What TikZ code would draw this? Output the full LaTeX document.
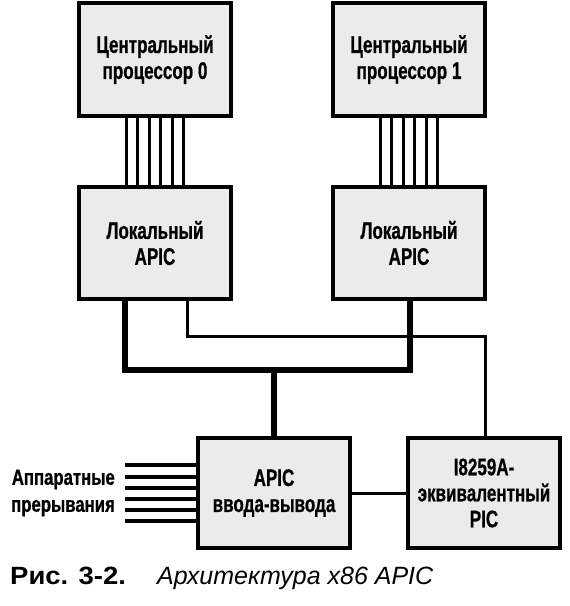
\documentclass[tikz,border=0pt]{standalone}
\usepackage{fontspec}
\setmainfont{Liberation Sans}
\newfontfamily\narrowfont{Liberation Sans}[FakeStretch=0.71,FakeBold=0.6]
\newfontfamily\labelfont{Liberation Sans}[FakeStretch=0.76,FakeBold=0.8]
\newfontfamily\capfont{Liberation Sans}[FakeStretch=1.1]
\begin{document}
\begin{tikzpicture}[x=1pt,y=-1pt,
  box/.style={draw=black, line width=3.8pt, fill=black!8, minimum width=152pt,
     align=center, inner sep=0pt,
     font=\narrowfont\bfseries\fontsize{24}{26}\selectfont},
  bigbox/.style={box, minimum height=113pt},
  smallbox/.style={box, minimum height=110pt},
  bus/.style={line width=3.2pt},
  thickbus/.style={line width=6pt},
  thinbus/.style={line width=3pt}]
\useasboundingbox[fill=white] (0,0) rectangle (570,606);
\node[bigbox] (cpu0) at (155,59.5) {Центральный\\процессор 0};
\node[bigbox] (cpu1) at (409,59.5) {Центральный\\процессор 1};
\node[bigbox, minimum height=112pt] (apic0) at (155,243) {Локальный\\APIC};
\node[bigbox, minimum height=112pt] (apic1) at (409,243) {Локальный\\APIC};
\node[smallbox] (io) at (274,493) {APIC\\ввода-вывода};
\node[smallbox] (pic) at (484,493) {I8259A-\\эквивалентный\\PIC};
\foreach \d in {-28.75,-17.25,-5.75,5.75,17.25,28.75}{
  \draw[bus] ([xshift=\d pt]cpu0.south) -- ([xshift=\d pt]apic0.north);
  \draw[bus] ([xshift=\d pt]cpu1.south) -- ([xshift=\d pt]apic1.north);
}
\coordinate (j) at (274,370);
\coordinate (k) at (485,336);
\draw[thinbus] ([xshift=32pt]apic0.south) |- (k) -- (k |- pic.north);
\draw[thickbus] ([xshift=-30pt]apic0.south) |- (j) -| ([xshift=1pt]apic1.south);
\draw[thickbus] (j) -- (io.north);
\draw[thinbus] (io.east) -- (pic.west);
\foreach \d in {-28,-17,-6,5,16,28}{
  \draw[bus] ([yshift=\d pt]io.west) -- ++(-71,0);
}
\node[anchor=east, align=right, inner sep=0pt,
  font=\labelfont\bfseries\fontsize{22}{27}\selectfont] (hw) at (115,493) {Аппаратные\\прерывания};
\node[anchor=base west, inner sep=0pt, font=\capfont\bfseries\fontsize{25}{28}\selectfont] (cap1) at (10,584) {Рис. 3-2.};
\node[anchor=base west, inner sep=0pt, font=\itshape\fontsize{25}{28}\selectfont] (cap2) at (157,584) {Архитектура x86 APIC};
\end{tikzpicture}
\end{document}
